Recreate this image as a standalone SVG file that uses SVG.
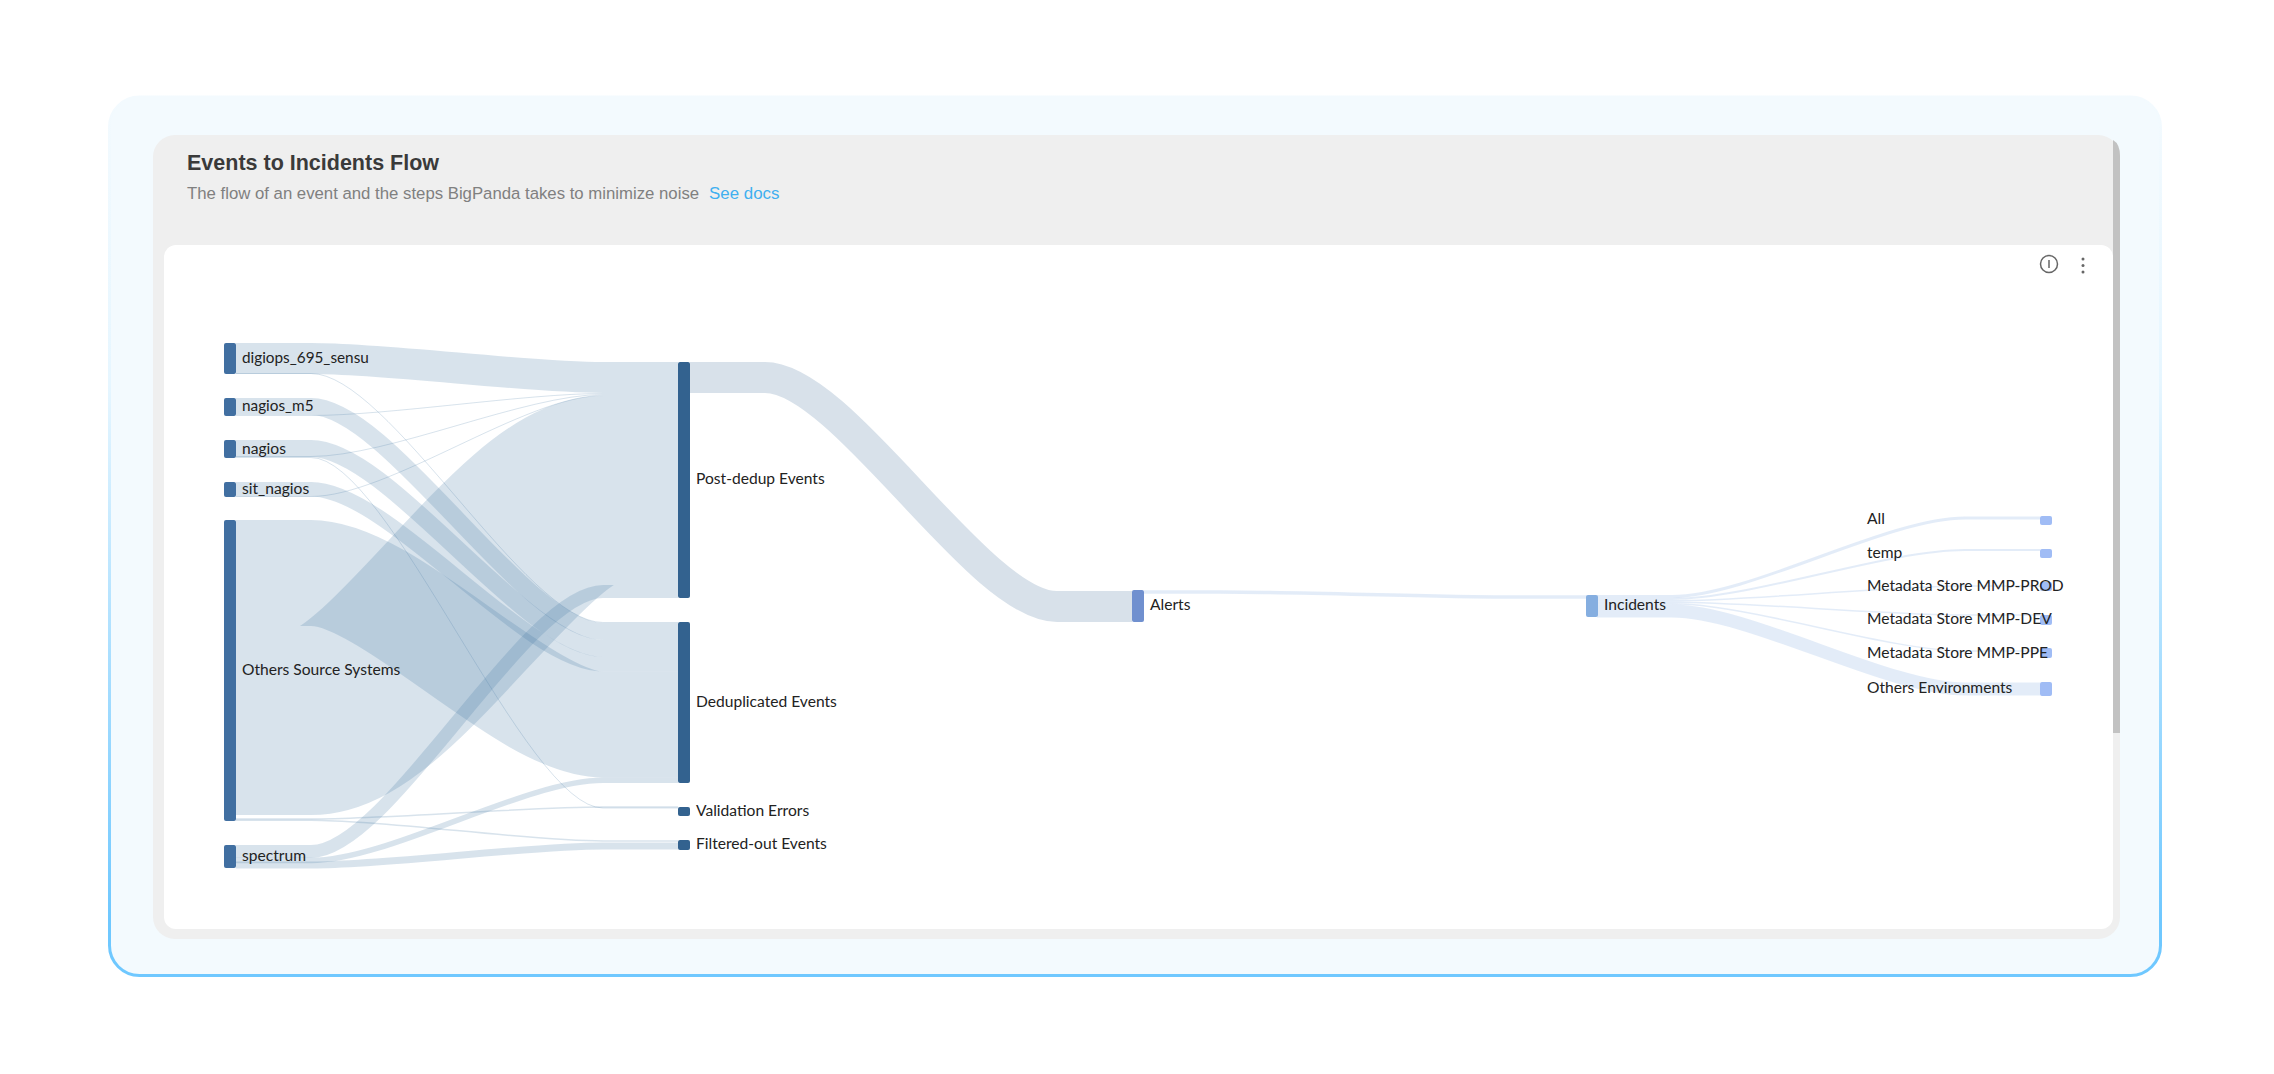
<svg xmlns="http://www.w3.org/2000/svg" width="2274" height="1074" viewBox="0 0 2274 1074">
<defs>
<linearGradient id="edge" gradientUnits="userSpaceOnUse" x1="0" y1="97" x2="0" y2="920">
<stop offset="0" stop-color="#f3fafe"/><stop offset="0.35" stop-color="#e6f6ff"/><stop offset="1" stop-color="#6fc8ff"/>
</linearGradient>
</defs>
<style>
.l{fill:none;stroke:#3c73a0;stroke-opacity:.2}
.r{fill:none;stroke:#4f86d2;stroke-opacity:.16}
.a{fill:none;stroke:#3d6a98;stroke-opacity:.2}
.lbl{font-family:Lato,"Liberation Sans",sans-serif;font-size:15.6px;fill:#222}
.n0{fill:#416fa1}.n1{fill:#33628f}.n2{fill:#7090cf}.n3{fill:#85aee0}.n4{fill:#a0bcf5}
.hd{font-family:"Liberation Sans",Arial,sans-serif}
</style>
<rect width="2274" height="1074" fill="#fff"/>
<rect x="109.5" y="97" width="2051" height="878.5" rx="30" fill="#f3fafe" stroke="url(#edge)" stroke-width="3"/>
<rect x="153" y="135" width="1967" height="804" rx="22" fill="#efefef"/>
<path d="M2113,140Q2120,144 2120,156L2120,733L2113,733Z" fill="#c2c2c2"/>
<rect x="164" y="245" width="1949" height="684" rx="12" fill="#fff"/>
<text class="hd" x="187" y="170" font-size="21.5" font-weight="700" fill="#3a3a3a">Events to Incidents Flow</text>
<text class="hd" x="187" y="199" font-size="16.75" fill="#808080">The flow of an event and the steps BigPanda takes to minimize noise</text>
<text class="hd" x="709" y="199" font-size="16.9" fill="#3fb0f0">See docs</text>
<g id="icons" fill="none" stroke="#666">
<circle cx="2049" cy="264" r="8.5" stroke-width="1.5"/>
<path d="M2049,260V268" stroke-width="1.5"/>
<g fill="#666" stroke="none"><circle cx="2083" cy="259" r="1.5"/><circle cx="2083" cy="265.5" r="1.5"/><circle cx="2083" cy="272" r="1.5"/></g>
</g>
<g id="connectors">
<path class="l" stroke-width="31" d="M236,358.5L311,358.5C389,358.5 525,377.5 603,377.5L678,377.5"/>
<path class="l" stroke-width="1" d="M236,373.5L311,373.5C389,373.5 525,622.5 603,622.5L678,622.5"/>
<path class="l" stroke-width="17" d="M236,406.5L311,406.5C389,406.5 525,631.5 603,631.5L678,631.5"/>
<path class="l" stroke-width="1" d="M236,415.5L311,415.5C389,415.5 525,393.5 603,393.5L678,393.5"/>
<path class="l" stroke-width="17" d="M236,448.5L311,448.5C389,448.5 525,648.5 603,648.5L678,648.5"/>
<path class="l" stroke-width="1" d="M236,456.5L311,456.5C389,456.5 525,394.5 603,394.5L678,394.5"/>
<path class="l" stroke-width="1" d="M236,457.5L311,457.5C389,457.5 525,808 603,808L678,808"/>
<path class="l" stroke-width="14.5" d="M236,489.25L311,489.25C389,489.25 525,664.25 603,664.25L678,664.25"/>
<path class="l" stroke-width="1" d="M236,496.5L311,496.5C389,496.5 525,395.5 603,395.5L678,395.5"/>
<path class="l" stroke-width="106" d="M236,573L311,573C389,573 525,724.5 603,724.5L678,724.5"/>
<path class="l" stroke-width="189" d="M236,720.5L311,720.5C389,720.5 525,490.5 603,490.5L678,490.5"/>
<path class="l" stroke-width="1.5" d="M236,819L311,819C389,819 525,807 603,807L678,807"/>
<path class="l" stroke-width="1.5" d="M236,820.2L311,820.2C389,820.2 525,841 603,841L678,841"/>
<path class="l" stroke-width="13" d="M236,851.5L311,851.5C389,851.5 525,591.5 603,591.5L678,591.5"/>
<path class="l" stroke-width="5.5" d="M236,860.5L311,860.5C389,860.5 525,780.25 603,780.25L678,780.25"/>
<path class="l" stroke-width="7" d="M236,865L311,865C389,865 525,846 603,846L678,846"/>
<path class="a" stroke-width="31" d="M690,377.5L765,377.5C843,377.5 979,606.5 1057,606.5L1132,606.5"/>
<path class="r" stroke-width="3.5" d="M1144,592L1219,592C1297,592 1434,597 1512,597L1587,597"/>
<path class="r" stroke-width="3" d="M1597,596.5L1672,596.5C1750,596.5 1887,518 1965,518L2040,518"/>
<path class="r" stroke-width="2" d="M1597,599L1672,599C1750,599 1887,550 1965,550L2040,550"/>
<path class="r" stroke-width="1.5" d="M1597,600.8L1672,600.8C1750,600.8 1887,586 1965,586L2040,586"/>
<path class="r" stroke-width="1.5" d="M1597,602.3L1672,602.3C1750,602.3 1887,615 1965,615L2040,615"/>
<path class="r" stroke-width="1.5" d="M1597,603.8L1672,603.8C1750,603.8 1887,651 1965,651L2040,651"/>
<path class="r" stroke-width="13" d="M1597,611L1672,611C1750,611 1887,689 1965,689L2040,689"/>
</g>
<g id="node-digiops"><rect class="n0" x="224" y="343" width="12" height="31" rx="2"/><text class="lbl" x="242" y="363" style="font-size:15.3px">digiops_695_sensu</text></g>
<g id="node-nagios-m5"><rect class="n0" x="224" y="398" width="12" height="18" rx="2"/><text class="lbl" x="242" y="411" style="font-size:15.3px">nagios_m5</text></g>
<g id="node-nagios"><rect class="n0" x="224" y="440" width="12" height="18" rx="2"/><text class="lbl" x="242" y="454">nagios</text></g>
<g id="node-sit-nagios"><rect class="n0" x="224" y="482" width="12" height="15" rx="2"/><text class="lbl" x="242" y="494">sit_nagios</text></g>
<g id="node-others-source"><rect class="n0" x="224" y="520" width="12" height="301" rx="2"/><text class="lbl" x="242" y="675">Others Source Systems</text></g>
<g id="node-spectrum"><rect class="n0" x="224" y="845" width="12" height="23" rx="2"/><text class="lbl" x="242" y="861">spectrum</text></g>
<g id="node-post-dedup"><rect class="n1" x="678" y="362" width="12" height="236" rx="2"/><text class="lbl" x="696" y="484">Post-dedup Events</text></g>
<g id="node-deduplicated"><rect class="n1" x="678" y="622" width="12" height="161" rx="2"/><text class="lbl" x="696" y="707">Deduplicated Events</text></g>
<g id="node-validation"><rect class="n1" x="678" y="807" width="12" height="9" rx="2"/><text class="lbl" x="696" y="816">Validation Errors</text></g>
<g id="node-filtered"><rect class="n1" x="678" y="840" width="12" height="10" rx="2"/><text class="lbl" x="696" y="849">Filtered-out Events</text></g>
<g id="node-alerts"><rect class="n2" x="1132" y="590" width="12" height="32" rx="2"/><text class="lbl" x="1150" y="610">Alerts</text></g>
<g id="node-incidents"><rect class="n3" x="1586" y="595" width="12" height="22" rx="2"/><text class="lbl" x="1604" y="610">Incidents</text></g>
<g id="node-all"><rect class="n4" x="2040" y="516" width="12" height="9" rx="2"/><text class="lbl" x="1867" y="524">All</text></g>
<g id="node-temp"><rect class="n4" x="2040" y="549" width="12" height="9" rx="2"/><text class="lbl" x="1867" y="558">temp</text></g>
<g id="node-prod"><rect class="n4" x="2040" y="582" width="12" height="9" rx="2"/><text class="lbl" x="1867" y="591">Metadata Store MMP-PROD</text></g>
<g id="node-dev"><rect class="n4" x="2040" y="615" width="12" height="10" rx="2"/><text class="lbl" x="1867" y="624">Metadata Store MMP-DEV</text></g>
<g id="node-ppe"><rect class="n4" x="2040" y="648" width="12" height="10" rx="2"/><text class="lbl" x="1867" y="658">Metadata Store MMP-PPE</text></g>
<g id="node-others-env"><rect class="n4" x="2040" y="682" width="12" height="14" rx="2"/><text class="lbl" x="1867" y="693">Others Environments</text></g>
</svg>
